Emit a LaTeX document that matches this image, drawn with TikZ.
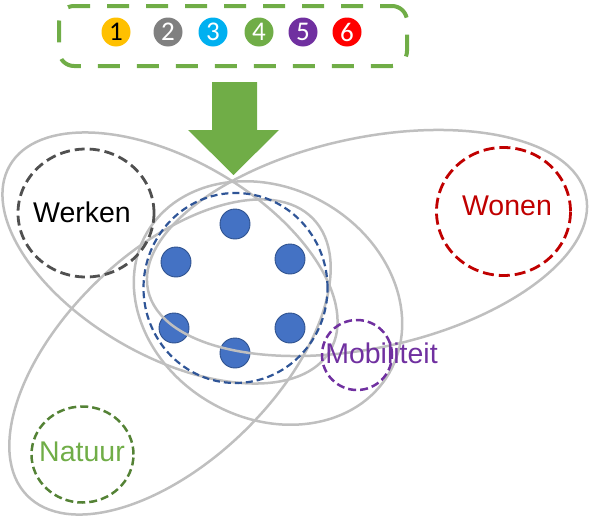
\documentclass[tikz,border=0pt]{standalone}
\usepackage{fontspec}
\setmainfont{Liberation Sans}
\newfontfamily\digitfont{Carlito}
\usetikzlibrary{shapes.geometric}
\definecolor{petalgray}{HTML}{BFBFBF}
\definecolor{boxgreen}{HTML}{70AD47}
\definecolor{cyellow}{HTML}{FFC000}
\definecolor{cgray}{HTML}{808080}
\definecolor{cblue}{HTML}{00B0F0}
\definecolor{cgreen}{HTML}{70AD47}
\definecolor{cpurple}{HTML}{7030A0}
\definecolor{cred}{HTML}{FF0000}
\definecolor{werkengray}{HTML}{505050}
\definecolor{wonenred}{HTML}{C00000}
\definecolor{natgreen}{HTML}{548235}
\definecolor{coreblue}{HTML}{2F5597}
\definecolor{dotfill}{HTML}{4472C4}
\definecolor{dotdraw}{HTML}{2F528F}
\begin{document}
\begin{tikzpicture}[x=1pt,y=-1pt,
  numc/.style={circle, minimum size=29pt, inner sep=0pt, text=white,
    font=\digitfont\fontsize{27}{27}\selectfont},
  dot/.style={circle, minimum size=30pt, inner sep=0pt, fill=dotfill, draw=dotdraw, line width=0.9pt},
  petal/.style={draw=petalgray, line width=2.5pt},
  themering/.style={ellipse, inner sep=0pt, line width=2.8pt},
  themetext/.style={font=\fontsize{28.5}{30}\selectfont, inner sep=0pt}]
\useasboundingbox (0,0) rectangle (590,522);

% top box with numbers
\node[draw=boxgreen, line width=4pt, dash pattern=on 22pt off 17pt, dash phase=10pt,
  rounded corners=15pt, minimum width=348pt, minimum height=60pt, inner sep=0pt] (box) at (233,36) {};
\node[numc, fill=cyellow, text=black] (n1) at (116,32) {1};
\node[numc, fill=cgray] (n2) at (168,32) {2};
\node[numc, fill=cblue] (n3) at (213,32) {3};
\node[numc, fill=cgreen] (n4) at (259,32) {4};
\node[numc, fill=cpurple] (n5) at (303,32) {5};
\node[numc, fill=cred] (n6) at (347,32) {6};

% block arrow
\fill[boxgreen] (212,82) -- (257,82) -- (257,130) -- (279,130) -- (233.5,175)
  -- (188,130) -- (212,130) -- cycle;

% centre dots
\node[dot] (d1) at (235,224) {};
\node[dot] (d2) at (176,262) {};
\node[dot] (d3) at (290,259) {};
\node[dot] (d4) at (174,328) {};
\node[dot] (d5) at (290,328) {};
\node[dot] (d6) at (235,353) {};

% petals
\draw[petal, rotate around={-30:(170,258)}] (170,258) ellipse (185 and 98);
\draw[petal, rotate around={12.2:(367,243)}] (367,243) ellipse (224 and 105);
\draw[petal, rotate around={44:(170,357)}] (170,357) ellipse (199 and 105);
\draw[petal, rotate around={-30:(268,303)}] (268,303) ellipse (140 and 115);

% centre ring
\node[ellipse, draw=coreblue, line width=2.2pt, dash pattern=on 7pt off 4pt,
  minimum width=184pt, minimum height=190pt, inner sep=0pt] (core) at (235.5,288) {};

% theme rings
\node[themering, draw=werkengray, dash pattern=on 10pt off 5pt,
  minimum width=136pt, minimum height=128pt] (werkenring) at (86,213) {};
\node[themering, draw=wonenred, dash pattern=on 11pt off 5pt,
  minimum width=134pt, minimum height=128pt] (wonenring) at (503.5,211.5) {};
\node[themering, draw=cpurple, line width=2.5pt, dash pattern=on 8pt off 4pt,
  minimum width=70pt, minimum height=70pt] (mobring) at (357,355) {};
\node[themering, draw=natgreen, line width=2.5pt, dash pattern=on 8pt off 4pt,
  minimum width=102pt, minimum height=96pt] (natring) at (82.5,454.5) {};

% labels
\node[themetext, text=black] (werken) at (82,212) {Werken};
\node[themetext, text=wonenred] (wonen) at (507,205.5) {Wonen};
\node[themetext, text=cpurple] (mob) at (381.5,353) {Mobiliteit};
\node[themetext, text=cgreen] (natuur) at (82,452) {Natuur};
\end{tikzpicture}
\end{document}
